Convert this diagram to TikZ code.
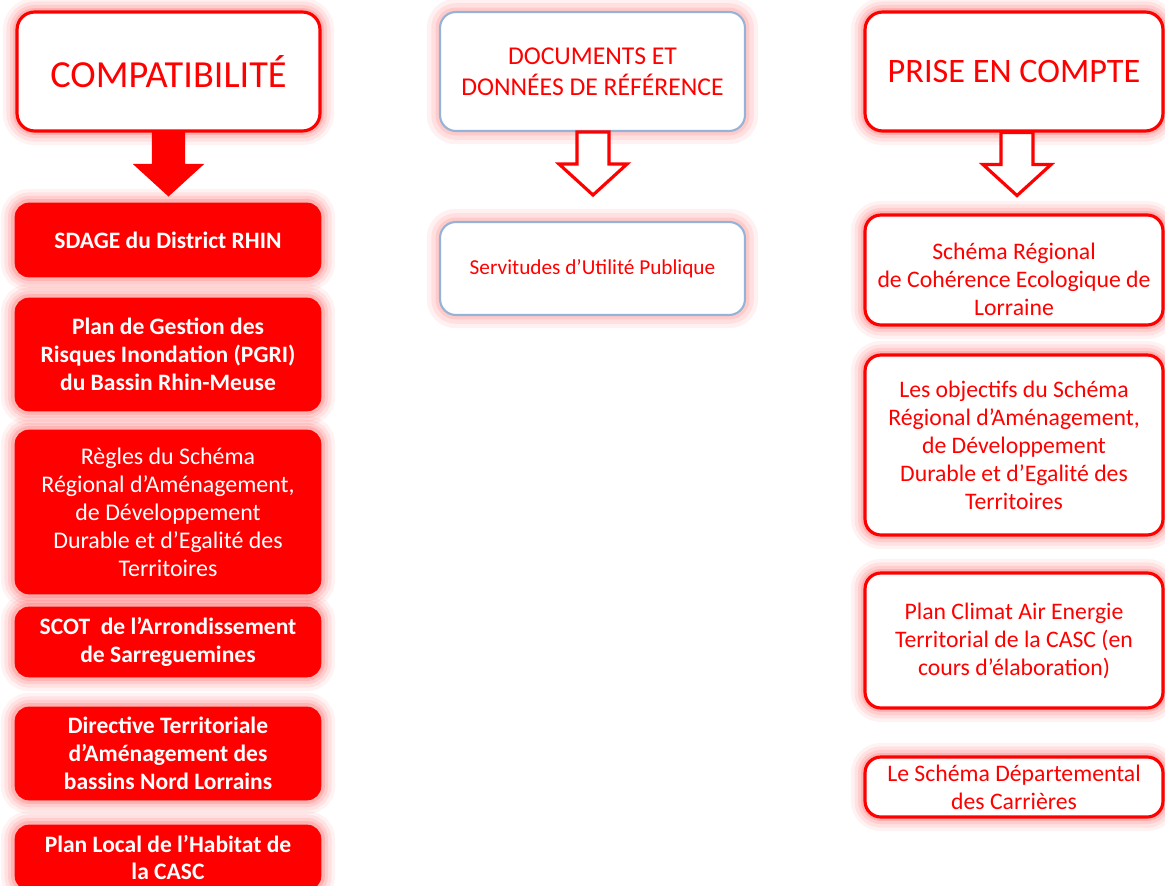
\documentclass[tikz,border=0pt]{standalone}
\usepackage{fontspec}
\setmainfont{Carlito}
\definecolor{rouge}{HTML}{FF0000}
\definecolor{bleu}{HTML}{95B3D7}
\tikzset{
  glow/.style={preaction={draw=rouge, draw opacity=0.05, line width=16pt},
               preaction={draw=rouge, draw opacity=0.07, line width=12pt},
               preaction={draw=rouge, draw opacity=0.09, line width=8pt},
               preaction={draw=rouge, draw opacity=0.12, line width=4.5pt}},
  titlebox/.style={glow, rectangle, rounded corners=10pt, fill=white, draw=rouge,
                   line width=1.8pt, text=rouge, align=center, minimum height=2.38cm},
  plainbox/.style={glow, rectangle, rounded corners=8pt, fill=rouge, draw=rouge,
                   text=white, align=center, minimum width=6.12cm,
                   font=\bfseries\fontsize{13.4}{15.9}\selectfont},
  whitebox/.style={glow, rectangle, rounded corners=9pt, fill=white, draw=rouge,
                   line width=1.8pt, text=rouge, align=center, minimum width=5.96cm,
                   font=\fontsize{13.5}{15.9}\selectfont},
  refbox/.style={preaction={draw=rouge!45, draw opacity=0.12, line width=15pt},
                 preaction={draw=rouge!45, draw opacity=0.18, line width=10pt},
                 preaction={draw=rouge!45, draw opacity=0.25, line width=5pt},
                 rectangle, rounded corners=9pt, fill=white, draw=bleu,
                 line width=1.2pt, text=rouge, align=center, minimum width=6.1cm},
  fillarrow/.style={fill=rouge, draw=rouge, line width=0.8pt},
  hollowarrow/.style={fill=white, draw=rouge, line width=1.8pt, line join=miter}
}
\begin{document}
\begin{tikzpicture}[x=0.02cm, y=-0.02cm]
  \useasboundingbox (0,0) rectangle (1165,885);

  % colonne de gauche
  \node[titlebox, minimum width=6.06cm, font=\fontsize{21.8}{26}\selectfont] (compat) at (168.5,71.5)
    {COMPATIBILIT\'E};
  \node[plainbox, minimum height=1.48cm] (sdage) at (168,240) {SDAGE du District RHIN};
  \node[plainbox, minimum height=2.26cm] (pgri) at (168,354.5)
    {Plan de Gestion des\\Risques Inondation (PGRI)\\du Bassin Rhin-Meuse};
  \node[plainbox, minimum height=3.28cm, font=\fontsize{13.6}{15.9}\selectfont] (regles) at (168,512)
    {R\`egles du Sch\'ema\\R\'egional d'Am\'enagement,\\de D\'eveloppement\\Durable et d'Egalit\'e des\\Territoires};
  \node[plainbox, minimum height=1.4cm] (scot) at (168,642)
    {SCOT\ \ de l'Arrondissement\\de Sarreguemines};
  \node[plainbox, minimum height=1.86cm] (dta) at (168,753.5)
    {Directive Territoriale\\d'Am\'enagement des\\bassins Nord Lorrains};
  \node[plainbox, minimum height=1.3cm] (plh) at (168,857.5)
    {Plan Local de l'Habitat de\\la CASC};

  % colonne du milieu
  \node[refbox, minimum height=2.38cm, font=\fontsize{14.6}{17.6}\selectfont] (docs) at (592.5,71.5)
    {DOCUMENTS ET\\DONN\'EES DE R\'EF\'ERENCE};
  \node[refbox, minimum height=1.86cm, font=\fontsize{12.1}{15.9}\selectfont] (sup) at (592.5,268.5)
    {Servitudes d'Utilit\'e Publique};

  % colonne de droite
  \node[titlebox, minimum width=5.96cm, font=\fontsize{19.5}{24}\selectfont] (prise) at (1014,71.5)
    {PRISE EN COMPTE};
  \node[whitebox, minimum height=2.2cm] (srce) at (1014,270) {};
  \node[text=rouge, align=center, font=\fontsize{13.5}{15.9}\selectfont] (srcetxt)
    at ([yshift=-5.1pt]srce.center)
    {Sch\'ema R\'egional\\de Coh\'erence Ecologique de\\Lorraine};
  \node[whitebox, minimum height=3.6cm] (sraddet) at (1014,445)
    {Les objectifs du Sch\'ema\\R\'egional d'Am\'enagement,\\de D\'eveloppement\\Durable et d'Egalit\'e des\\Territoires};
  \node[whitebox, minimum height=2.7cm] (pcaet) at (1014,640.5)
    {Plan Climat Air Energie\\Territorial de la CASC (en\\cours d'\'elaboration)};
  \node[whitebox, minimum height=1.2cm] (sdc) at (1014,787)
    {Le Sch\'ema D\'epartemental\\des Carri\`eres};

  % fleches
  \foreach \n/\s/\d in {compat/fillarrow/0, docs/hollowarrow/0.5, prise/hollowarrow/3}
    \draw[\s] (\n.south) ++(\d-16,0) -- ++(0,32) -- ++(-18,0) -- ++(34,31)
      -- ++(34,-31) -- ++(-18,0) -- ++(0,-32) -- cycle;
\end{tikzpicture}
\end{document}
